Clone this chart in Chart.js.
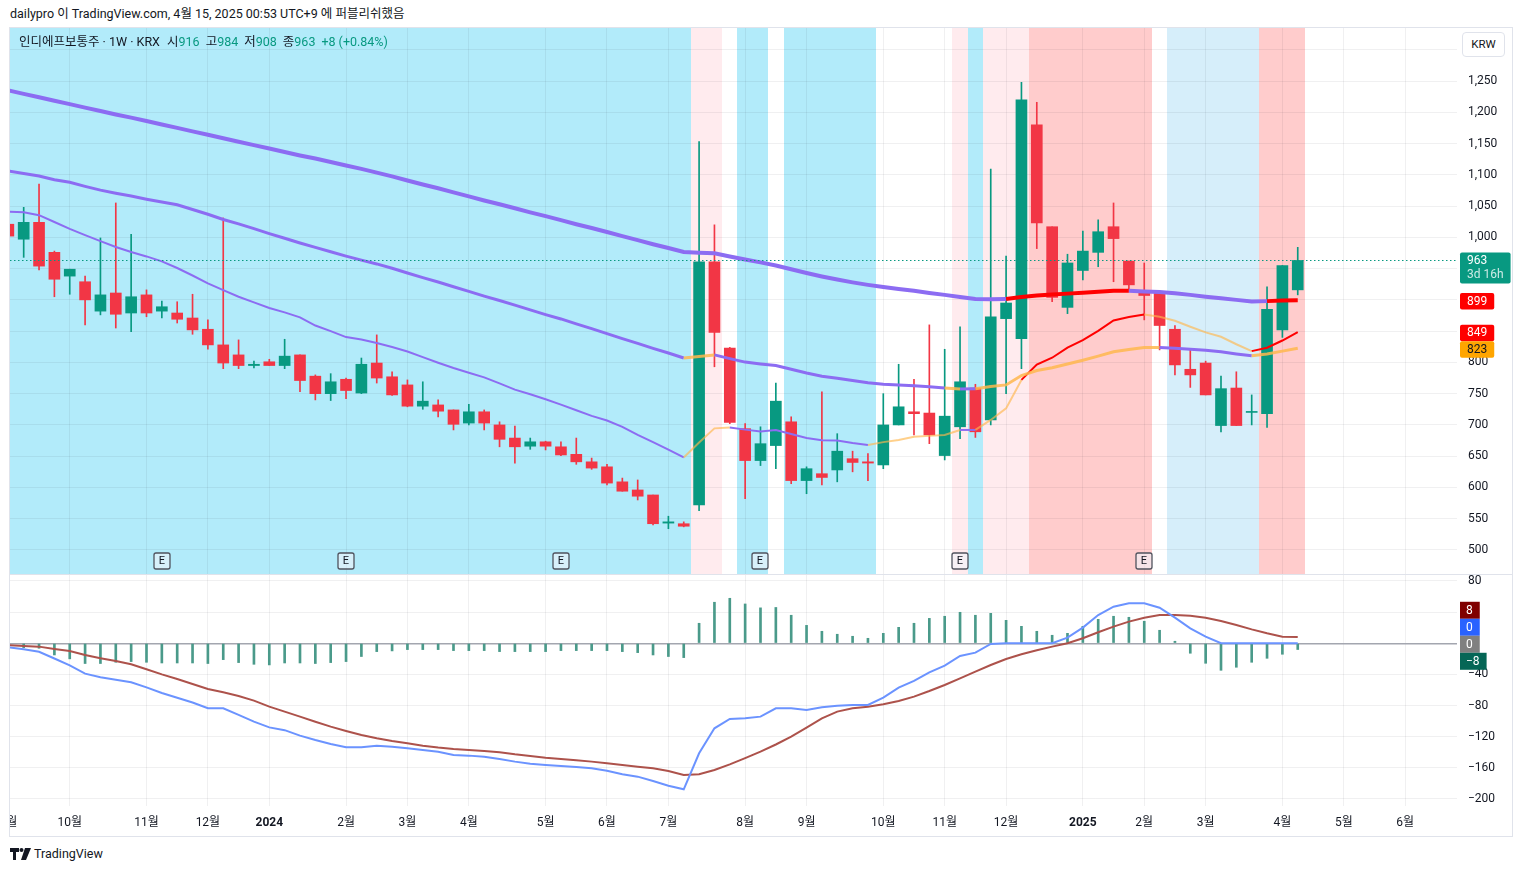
<!DOCTYPE html>
<html>
<head>
<meta charset="utf-8">
<script src="https://cdn.jsdelivr.net/npm/chart.js@4.4.1/dist/chart.umd.min.js"></script>
<style>
  body { margin: 0; background: #fff; font-family: Roboto, "Noto Sans CJK KR", sans-serif; color: #131722; }
  #hdr { position: absolute; left: 10px; top: 6px; font-size: 12.5px; line-height: 16px; white-space: nowrap; }
  #frame { position: absolute; left: 9px; top: 27px; width: 1502px; height: 808px; border: 1px solid #e0e3eb; }
  #priceCanvas { position: absolute; left: 0; top: 0; }
  #sep { position: absolute; left: 0; top: 546px; width: 1502px; height: 1px; background: #e0e3eb; }
  #macdCanvas { position: absolute; left: 0; top: 547px; }
  #legend { position: absolute; left: 9px; top: 7px; font-size: 12.5px; line-height: 14px; white-space: nowrap; }
  #legend .v { color: #089981; margin-right: 6px; }
  #legend .sp { margin-right: 4px; }
  #krw { position: absolute; left: 1452px; top: 4px; width: 41px; height: 23px; border: 1px solid #e0e3eb; border-radius: 4px;
         font-size: 11.5px; line-height: 23px; text-align: center; background: #fff; }
  #logo { position: absolute; left: 10px; top: 846px; font-size: 12.5px; line-height: 16px; display: flex; align-items: center; gap: 3px; }
</style>
</head>
<body>
<div id="hdr">dailypro 이 TradingView.com, 4월 15, 2025 00:53 UTC+9 에 퍼블리쉬했음</div>
<div id="frame">
  <canvas id="priceCanvas" width="1502" height="546"></canvas>
  <div id="sep"></div>
  <canvas id="macdCanvas" width="1502" height="261"></canvas>
  <div id="legend"><span class="sp">인디에프보통주 · 1W · KRX</span> 시<span class="v">916</span>고<span class="v">984</span>저<span class="v">908</span>종<span class="v">963</span><span class="v">+8 (+0.84%)</span></div>
  <div id="krw">KRW</div>
</div>
<div id="logo">
  <svg width="21" height="12" viewBox="0 0 21 12"><path d="M0 0h9v4H6v8H3V4H0z" fill="#131722"/><circle cx="11.5" cy="2" r="2" fill="#131722"/><path d="M15 0h6l-5 12h-5z" fill="#131722"/></svg>
  <span>TradingView</span>
</div>
<script>
// weekly bars, first bar = week of 2023-09-04, last = week of 2025-04-14
const open = [
  1021, 997, 1024, 976, 938, 929, 882, 911, 879, 908, 882, 879, 871, 853, 828, 812, 795,
  801, 795, 812, 778, 750, 773, 751, 799, 777, 764,
  730, 732, 724, 703, 721, 700, 679, 666, 673, 665,
  653, 641, 633, 609, 596, 588, 543, 542, 572, 961,
  823, 694, 643, 667, 705, 611, 622, 628, 646, 641,
  636, 700, 721, 719, 651, 697, 759, 708, 870, 838,
  1180, 1017, 888, 947, 976, 1017, 962, 913, 913, 853,
  789, 799, 699, 759, 720, 718, 852, 916
];
const high = [
  1030, 1048, 1085, 978, 949, 938, 999, 1055, 1005, 916, 898, 897, 909, 868, 1031, 836, 802,
  805, 837, 812, 780, 782, 775, 807, 844, 785, 772,
  769, 740, 724, 733, 724, 705, 698, 679, 674, 673,
  679, 647, 637, 615, 612, 588, 554, 545, 1153, 1020,
  824, 702, 697, 767, 713, 633, 753, 686, 658, 654,
  750, 797, 773, 860, 821, 857, 765, 1109, 970, 1248,
  1216, 1017, 973, 1010, 1028, 1055, 962, 959, 913, 859,
  820, 802, 778, 785, 748, 921, 955, 984
];
const low = [
  1000, 968, 948, 905, 909, 860, 876, 855, 849, 873, 871, 863, 845, 821, 790, 790, 791,
  795, 790, 753, 740, 739, 742, 750, 767, 747, 729,
  725, 713, 692, 700, 692, 665, 639, 661, 660, 651,
  637, 629, 604, 594, 580, 540, 534, 537, 563, 793,
  702, 582, 635, 630, 606, 590, 604, 609, 625, 611,
  630, 700, 684, 670, 644, 678, 680, 700, 750, 790,
  982, 897, 878, 932, 953, 929, 918, 868, 820, 780,
  760, 748, 689, 699, 700, 696, 840, 908
];
const close = [
  1002, 1024, 954, 933, 949, 900, 908, 877, 905, 879, 889, 869, 852, 828, 799, 795, 797,
  795, 810, 771, 750, 769, 755, 797, 775, 748, 730,
  738, 722, 701, 721, 703, 677, 665, 673, 666, 652,
  641, 631, 607, 594, 586, 542, 545, 538, 961, 848,
  704, 643, 670, 738, 611, 630, 616, 658, 640, 639,
  700, 729, 718, 684, 714, 769, 689, 873, 895, 1220,
  1023, 904, 959, 978, 1009, 998, 924, 907, 859, 796,
  780, 748, 758, 699, 721, 885, 955, 963
];

// moving averages
const maLong = [
  1235, 1229.5, 1224, 1218.5, 1213, 1207.5, 1202, 1196.5, 1191.5, 1186, 1180.5, 1175, 1169.5, 1164, 1158.5, 1153, 1147.5,
  1142, 1136.5, 1131, 1126, 1120.5, 1115, 1109.5, 1103.5, 1097.5, 1091,
  1084.5, 1078.5, 1072, 1065.5, 1059, 1053, 1046.5, 1040, 1034, 1027.5,
  1021, 1015, 1008.5, 1002, 995.5, 989, 983, 976.5, 975.5, 974.5,
  969.5, 964.5, 960, 955, 949, 943, 937.5, 932.5, 928, 924,
  920.5, 917.5, 914.5, 911, 908, 904.5, 901.5, 901, 901.5, 904.5,
  907, 908.5, 910, 911.5, 913, 914.5, 914.5, 913.5, 912.5, 910.5,
  908, 905, 902.5, 900, 897.5, 898, 899, 899.3
];
const maMid = [
  1106, 1102, 1098, 1092, 1088, 1081.5, 1075.5, 1070.5, 1066, 1061, 1056.5, 1052, 1044.5, 1037, 1028.5, 1021.5, 1014,
  1006, 998.5, 991, 984, 977, 970, 963.5, 957.5, 950.5, 943,
  935.5, 928.5, 921, 913.5, 906, 899, 891.5, 884, 876.5, 869.5,
  861.5, 854, 846, 838, 830.5, 822.5, 815, 807, 809.5, 812,
  806, 800.5, 797.5, 795, 789, 783, 778, 774.5, 771, 767.5,
  765, 764, 762.5, 761, 759, 757.5, 758, 761.5, 764, 779,
  787, 791.5, 797.5, 803.5, 810, 817, 820.5, 824, 824, 822.5,
  821, 819.5, 817, 813.5, 810.5, 813.5, 818, 822.5
];
const maShort = [
  1041, 1040, 1035.5, 1024.5, 1013.5, 1003.5, 994, 984.5, 976.5, 969.5, 961.5, 951, 939, 926.5, 915.5, 905, 896,
  887, 880, 872, 859, 850, 840.5, 836.5, 831, 824.5, 817.5,
  808.5, 799.5, 791, 783.5, 776, 766.5, 756.5, 749, 741, 732.5,
  723.5, 714.5, 707, 697, 684, 672.5, 660.5, 648, 672, 694.5,
  696, 692.5, 689.5, 692, 685.5, 679, 675.5, 675, 671, 668,
  672.5, 676, 681, 682.5, 684, 692, 692, 708, 726.5, 772,
  796.5, 807.5, 823.5, 835.5, 850.5, 867, 872.5, 876.5, 873, 866.5,
  857, 848, 841, 829, 818, 823.5, 835, 848.5
];

// MACD pane
const macdLine = [
  -5, -7.8, -10.9, -19.5, -28.4, -39, -43.6, -46.8, -50.1, -56.7, -63.8, -70, -76.1, -83.5, -83.6, -92, -100.7,
  -108, -111.6, -118.6, -124.2, -129.3, -133.6, -133.6, -131.5, -132.8, -134.9,
  -137, -139.2, -143.5, -144.3, -145.6, -148.6, -152, -154.6, -156.3, -157.6,
  -158.9, -160.6, -163.6, -168.3, -171.3, -176.9, -182.9, -187.6, -141.3, -109.2,
  -97.2, -96.4, -94.2, -83.5, -83.5, -85.7, -82.2, -80.1, -79.3, -79.3,
  -69.8, -57, -48.4, -37.3, -28.7, -16.3, -12, -0.9, 0, 0,
  0, 0, 7.2, 20.1, 36.3, 47, 51.3, 51.3, 45.7, 32.9,
  19.2, 8.5, 0, 0, 0, 0, 0, 0
];
const signalLine = [
  -2.5, -3.5, -4.3, -7.3, -9.9, -15, -19.3, -22.7, -27, -33.4, -39.9, -45.9, -52.3, -58.7, -63, -67.7, -73.7,
  -81.4, -87.8, -94.2, -100.7, -107.1, -112.6, -117.8, -122, -125.5, -128.5,
  -131.5, -134, -135.8, -137, -138.3, -140, -142.6, -144.7, -146.9, -148.6,
  -150.3, -152, -154.2, -156.3, -158.5, -160.6, -164, -169.2, -168.3, -162.7,
  -155.5, -147.5, -139.2, -130, -119.9, -108.4, -96.4, -87.8, -83.5, -81.4,
  -78.4, -74.1, -68.5, -61.3, -53.6, -45, -36.4, -27.9, -20.2, -14.2,
  -9, -4.3, 0, 6.4, 14.1, 21.4, 27.8, 32.9, 36.3, 36.3,
  35.5, 32.9, 28.6, 23.5, 17.9, 12.8, 8.5, 8
];
const histogram = [
  -2, -5.6, -6.4, -15, -20, -26, -26, -24.4, -23.5, -24.4, -25.3, -25.3, -25.3, -26, -21, -24.8, -27,
  -27.8, -25.3, -25.3, -26, -24.8, -23.5, -17, -10.7, -9.8, -8.1,
  -8.1, -8.1, -9.4, -9.4, -9.4, -10.7, -10.7, -10.7, -10.7, -9.4,
  -9.4, -9.4, -9.4, -10.7, -12, -15, -17, -18.4, 25.7, 52.7,
  57.8, 50.5, 45.5, 46, 36, 23, 15.4, 11.6, 9, 6.4,
  12.8, 20.5, 25.7, 32, 34.7, 39.8, 36, 38.5, 29.5, 21.8,
  15.4, 10.3, 12.8, 21.8, 30.8, 34.7, 33.4, 28.3, 16.7, 2.6,
  -12.8, -25.7, -34.7, -30.8, -24.4, -19.3, -14.1, -8
];

// time axis (bar numbers of the first weekly bar of each month)
const monthWeeks  = [0, 4, 9, 13, 17, 22, 26, 30, 35, 39, 43, 48, 52, 57, 61, 65, 70, 74, 78, 83, 87, 91];
const monthLabels = ['9월', '10월', '11월', '12월', '2024', '2월', '3월', '4월', '5월', '6월', '7월', '8월',
                     '9월', '10월', '11월', '12월', '2025', '2월', '3월', '4월', '5월', '6월'];
const earningsWeeks = [10, 22, 36, 49, 62, 74];

// background / line states per bar
const runs = r => r.flatMap(([s, n]) => Array(n).fill(s));
const bgState = runs([['c', 45], ['p', 2], ['w', 1], ['c', 2], ['w', 1], ['c', 6], ['w', 5], ['p', 1], ['c', 1],
                      ['p', 3], ['s', 8], ['w', 1], ['b', 6], ['s', 3]]);
const longState  = runs([['p', 66], ['r', 8], ['p', 9], ['r', 2]]);
const midState   = runs([['p', 45], ['o', 2], ['p', 15], ['o', 1], ['p', 1], ['o', 12], ['p', 6], ['o', 3]]);
const shortState = runs([['p', 45], ['y', 3], ['p', 9], ['y', 6], ['p', 1], ['y', 3], ['r', 8], ['y', 7], ['r', 3]]);

const UP = '#089981', DOWN = '#f23645', PURPLE = '#8c6cf2';
const GRID = 'rgba(42,46,57,0.07)';
const BAND = { c: '#b2ebfa', p: '#ffebee', s: '#ffcccc', b: '#d6eefa' };
const LONG_COL = { p: PURPLE, r: '#ff0000' };
const MID_COL = { p: PURPLE, o: 'rgba(255,183,77,0.85)' };
const SHORT_COL = { p: PURPLE, y: 'rgba(255,183,77,0.65)', r: '#ff0000' };

Chart.defaults.font.family = 'Roboto, "Noto Sans CJK KR", sans-serif';
Chart.defaults.font.size = 12;
Chart.defaults.color = '#131722';

const X_MIN = 0.108, X_MAX = 94.375;
const ks = close.map((_, k) => k);
const last = close.length - 1;
const candleCol = ks.map(k => close[k] >= open[k] ? UP : DOWN);

function xAxis(showLabels) {
  return {
    type: 'linear', min: X_MIN, max: X_MAX, offset: false,
    grid: { color: GRID, drawTicks: false, offset: false },
    border: { display: false },
    afterBuildTicks: s => { s.ticks = monthWeeks.map(v => ({ value: v })); },
    ticks: {
      display: showLabels, autoSkip: false, maxRotation: 0, padding: 10,
      callback: (v, i) => monthLabels[i],
      font: c => ({ size: 12, weight: /^\d{4}$/.test(monthLabels[c.index] || '') ? 'bold' : 'normal' })
    },
    afterFit: s => { s.height = showLabels ? 30 : 0; s.paddingLeft = 0; s.paddingRight = 0; }
  };
}
const lineSet = (vals, width, state, cols, order) => ({
  type: 'line', data: ks.map(k => ({ x: k, y: vals[k] })), borderWidth: width, borderColor: PURPLE,
  pointRadius: 0, tension: 0, order,
  segment: { borderColor: c => cols[state[c.p1DataIndex]] }
});

const bandsPlugin = {
  id: 'bands',
  beforeDraw(chart) {
    const { ctx, chartArea: a, scales: { x } } = chart;
    ctx.save();
    ctx.beginPath(); ctx.rect(a.left, a.top, a.width, a.height); ctx.clip();
    bgState.forEach((s, k) => {
      if (!BAND[s]) return;
      const x0 = Math.round(x.getPixelForValue(k - 0.5)), x1 = Math.round(x.getPixelForValue(k + 0.5));
      ctx.fillStyle = BAND[s];
      ctx.fillRect(x0, a.top, x1 - x0, a.height);
    });
    ctx.restore();
  }
};

const priceOverlay = {
  id: 'priceOverlay',
  afterDatasetsDraw(chart) {
    const { ctx, chartArea: a, scales: { x, y } } = chart;
    ctx.save();
    // last price dotted line
    const yp = Math.round(y.getPixelForValue(close[last])) + 0.5;
    ctx.strokeStyle = UP; ctx.lineWidth = 1; ctx.setLineDash([1.5, 2.5]);
    ctx.beginPath(); ctx.moveTo(a.left, yp); ctx.lineTo(a.right, yp); ctx.stroke();
    ctx.setLineDash([]);
    // earnings markers
    ctx.font = '11px Roboto, sans-serif'; ctx.textAlign = 'center'; ctx.textBaseline = 'middle';
    earningsWeeks.forEach(k => {
      const cx = Math.round(x.getPixelForValue(k)), cy = a.bottom - 13;
      ctx.fillStyle = 'rgba(240,243,250,0.6)';
      ctx.strokeStyle = '#50535e'; ctx.lineWidth = 1.3;
      ctx.beginPath(); ctx.roundRect(cx - 8, cy - 8, 16, 16, 2); ctx.fill(); ctx.stroke();
      ctx.fillStyle = '#131722'; ctx.fillText('E', cx, cy + 0.5);
    });
    ctx.restore();
  },
  afterDraw(chart) {
    const { ctx, chartArea: a, scales: { y } } = chart;
    const boxes = [
      { v: close[last], lines: [String(close[last]), '3d 16h'], bg: UP, fg: '#fff' },
      { v: maLong[last], lines: [String(Math.round(maLong[last]))], bg: '#ff0000', fg: '#fff' },
      { v: maShort[last], lines: [String(Math.round(maShort[last]))], bg: '#ff0000', fg: '#fff' },
      { v: maMid[last], lines: [String(Math.round(maMid[last]))], bg: '#ffa500', fg: '#131722' }
    ].sort((p, q) => q.v - p.v);
    ctx.save();
    ctx.font = '12px Roboto, sans-serif'; ctx.textBaseline = 'middle'; ctx.textAlign = 'left';
    let prevBottom = -Infinity;
    boxes.forEach(b => {
      const yc = y.getPixelForValue(b.v);
      const h = b.lines.length > 1 ? 31 : 16.5;
      let top = b.lines.length > 1 ? yc - 8 : yc - h / 2 + 1;
      if (top < prevBottom) top = prevBottom;
      const w = Math.max(...b.lines.map(t => ctx.measureText(t).width)) + 14;
      ctx.fillStyle = b.bg;
      ctx.beginPath(); ctx.roundRect(a.right + 3, top, w, h, 2); ctx.fill();
      b.lines.forEach((t, i) => {
        ctx.fillStyle = i === 0 ? b.fg : 'rgba(255,255,255,0.8)';
        ctx.fillText(t, a.right + 10, top + 8.5 + i * 14.5);
      });
      prevBottom = top + h;
    });
    ctx.restore();
  }
};

new Chart(document.getElementById('priceCanvas'), {
  type: 'bar',
  data: {
    datasets: [
      lineSet(maLong, 4, longState, LONG_COL, 1),
      lineSet(maMid, 3, midState, MID_COL, 2),
      lineSet(maShort, 2, shortState, SHORT_COL, 3),
      { type: 'bar', data: ks.map(k => ({ x: k, y: [open[k], close[k]] })), backgroundColor: candleCol,
        barThickness: 11, minBarLength: 1, grouped: false, borderWidth: 0, order: 4 },
      { type: 'bar', data: ks.map(k => ({ x: k, y: [low[k], high[k]] })), backgroundColor: candleCol,
        barThickness: 1, grouped: false, borderWidth: 0, order: 5 }
    ]
  },
  options: {
    responsive: false, animation: false, devicePixelRatio: 1, events: [],
    layout: { padding: 0 },
    plugins: { legend: { display: false }, tooltip: { enabled: false } },
    scales: {
      x: xAxis(false),
      y: {
        position: 'right', min: 461.6, max: 1334.8,
        grid: { color: GRID, drawTicks: false }, border: { display: false },
        ticks: { stepSize: 50, includeBounds: false, padding: 11,
                 callback: v => v > 1250 ? '' : v.toLocaleString('en-US') },
        afterFit: s => { s.width = 55; s.paddingTop = 0; s.paddingBottom = 0; }
      }
    }
  },
  plugins: [bandsPlugin, priceOverlay]
});

const macdOverlay = {
  id: 'macdOverlay',
  afterDraw(chart) {
    const { ctx, chartArea: a, scales: { y } } = chart;
    const z = y.getPixelForValue(0);
    const fmt = v => String(Math.round(v)).replace('-', '\u2212');
    const boxes = [
      { t: fmt(signalLine[last]), bg: '#800000' },
      { t: fmt(macdLine[last]), bg: '#2962ff' },
      { t: '0', bg: '#808080' },
      { t: fmt(histogram[last]), bg: '#056656' }
    ];
    ctx.save();
    ctx.font = '12px Roboto, sans-serif'; ctx.textBaseline = 'middle'; ctx.textAlign = 'left';
    boxes.forEach((b, i) => {
      const yc = z + 1 + (i - 2) * 17;
      const w = Math.max(19, ctx.measureText(b.t).width + 13);
      ctx.fillStyle = b.bg;
      ctx.fillRect(a.right + 3, yc - 8.5, w, 17);
      ctx.fillStyle = '#fff';
      ctx.fillText(b.t, a.right + 9, yc + 0.5);
    });
    ctx.restore();
  }
};

new Chart(document.getElementById('macdCanvas'), {
  type: 'bar',
  data: {
    datasets: [
      { type: 'line', data: ks.map(k => ({ x: k, y: macdLine[k] })), borderColor: '#6b93ff', borderWidth: 2,
        pointRadius: 0, tension: 0, order: 1 },
      { type: 'line', data: ks.map(k => ({ x: k, y: signalLine[k] })), borderColor: '#ad524b', borderWidth: 2,
        pointRadius: 0, tension: 0, order: 2 },
      { type: 'bar', data: ks.map(k => ({ x: k, y: histogram[k] })), backgroundColor: '#4a9a8a',
        barThickness: 2, grouped: false, borderWidth: 0, order: 3 }
    ]
  },
  options: {
    responsive: false, animation: false, devicePixelRatio: 1, events: [],
    layout: { padding: 0 },
    plugins: { legend: { display: false }, tooltip: { enabled: false } },
    scales: {
      x: xAxis(true),
      y: {
        position: 'right', min: -209, max: 87.7,
        grid: { color: c => c.tick && c.tick.value === 0 ? '#a3a6af' : GRID, lineWidth: c => c.tick && c.tick.value === 0 ? 1.5 : 1, drawTicks: false },
        border: { display: false },
        ticks: { stepSize: 40, includeBounds: false, padding: 11,
                 callback: v => (v === 0 || v === 40) ? '' : String(v).replace('-', '\u2212') },
        afterFit: s => { s.width = 55; s.paddingTop = 0; s.paddingBottom = 0; }
      }
    }
  },
  plugins: [macdOverlay]
});
</script>
</body>
</html>
